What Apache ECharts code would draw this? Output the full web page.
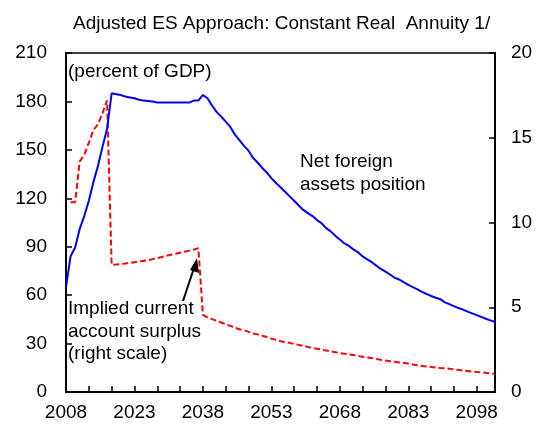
<!DOCTYPE html>
<html>
<head>
<meta charset="utf-8">
<script src="https://cdn.jsdelivr.net/npm/echarts@6/dist/echarts.min.js"></script>
<style>
html,body{margin:0;padding:0;background:#fff;}
#chart{width:538px;height:434px;}
</style>
</head>
<body>
<div id="chart"></div>
<script>
// Years 2008..2102
var years = [];
for (var y = 2008; y <= 2102; y++) years.push(String(y));

// Net foreign assets position (percent of GDP, left scale)
var nfa = [
  65, 84, 89.5, 101, 109, 118.5, 130, 140, 152, 163,          // 2008-2017
  185, 184.5, 184, 183, 182.5, 182, 181, 180.5, 180.3, 180,   // 2018-2027
  179.3, 179.3, 179.3, 179.3, 179.3, 179.3, 179.3, 179.3, 180.5, 180.5, // 2028-2037
  184, 182, 177.5, 173.5, 170.6, 167.5, 164.2, 159.5, 156, 152.5,       // 2038-2047
  149.5, 145, 142, 138.8, 136, 132.5, 129.5, 126.8, 124, 121.2,         // 2048-2057
  118.5, 115.5, 112.8, 110.8, 109, 106.5, 104.5, 101.5, 99.5, 96.8,     // 2058-2067
  94.4, 92, 90.5, 88.3, 86.5, 84, 82.2, 80.4, 78.3, 76.2,               // 2068-2077
  74.6, 72.8, 70.8, 69.7, 68, 66.4, 65, 63.6, 62, 60.7,                 // 2078-2087
  59.5, 58.4, 57.5, 55.5, 54.4, 53.2, 52, 51, 49.8, 48.7,               // 2088-2097
  47.6, 46.5, 45.4, 44.4, 43.4                                          // 2098-2102
];

// Implied current account surplus (right scale)
var cas = [
  null, 11.2, 11.2, 13.6, 14.0, 14.7, 15.45, 15.8, 16.45, 17.2,          // 2008-2017
  7.5, 7.52, 7.55, 7.58, 7.62, 7.66, 7.7, 7.74, 7.78, 7.84,              // 2018-2027
  7.9, 7.97, 8.04, 8.1, 8.16, 8.22, 8.28, 8.34, 8.4, 8.48,               // 2028-2037
  4.55, 4.4, 4.3, 4.2, 4.1, 4.0, 3.9, 3.8, 3.7, 3.65,                    // 2038-2047
  3.55, 3.45, 3.4, 3.32, 3.25, 3.15, 3.08, 3.0, 2.95, 2.9,               // 2048-2057
  2.83, 2.78, 2.72, 2.66, 2.6, 2.55, 2.5, 2.45, 2.4, 2.35,               // 2058-2067
  2.3, 2.26, 2.22, 2.18, 2.12, 2.08, 2.04, 2.0, 1.95, 1.9,               // 2068-2077
  1.86, 1.82, 1.78, 1.74, 1.71, 1.68, 1.62, 1.58, 1.54, 1.5,             // 2078-2087
  1.48, 1.45, 1.42, 1.4, 1.37, 1.33, 1.3, 1.27, 1.24, 1.21,              // 2088-2097
  1.18, 1.16, 1.13, 1.1, 1.06                                            // 2098-2102
];

var leftTicks = [0, 210, 30];
var rightTicks = [0, 20, 5];

var FONT = '"Liberation Sans", Arial, sans-serif';
var FS = 19;
var chart = echarts.init(document.getElementById('chart'), null, {renderer: 'canvas'});

chart.setOption({
  animation: false,
  backgroundColor: '#fff',
  textStyle: {fontFamily: FONT, color: '#000'},
  title: {
    text: 'Adjusted ES Approach: Constant Real  Annuity 1/',
    left: 68, top: 9,
    textStyle: {fontFamily: FONT, fontSize: FS, fontWeight: 'normal', color: '#000'}
  },
  grid: {
    left: 66, right: 43, top: 53, bottom: 42,
    show: true, borderColor: '#000', borderWidth: 1.5, backgroundColor: 'transparent'
  },
  xAxis: {
    type: 'category',
    data: years,
    boundaryGap: false,
    axisLine: {show: true, lineStyle: {color: '#000', width: 2}},
    axisTick: {show: true, inside: true, interval: 4, length: 6, lineStyle: {color: '#000', width: 1.5}},
    axisLabel: {interval: 14, margin: 11, fontSize: FS, color: '#000', fontFamily: FONT},
    splitLine: {show: false}
  },
  yAxis: [{
    type: 'value',
    min: leftTicks[0], max: leftTicks[1], interval: leftTicks[2],
    axisLine: {show: true, lineStyle: {color: '#000', width: 2}},
    axisTick: {show: true, inside: true, length: 6, lineStyle: {color: '#000', width: 1.5}},
    axisLabel: {margin: 19, fontSize: FS, color: '#000', fontFamily: FONT},
    splitLine: {show: false}
  }, {
    type: 'value',
    position: 'right',
    min: rightTicks[0], max: rightTicks[1], interval: rightTicks[2],
    axisLine: {show: true, lineStyle: {color: '#000', width: 2}},
    axisTick: {show: true, inside: true, length: 6, lineStyle: {color: '#000', width: 1.5}},
    axisLabel: {margin: 16, fontSize: FS, color: '#000', fontFamily: FONT},
    splitLine: {show: false}
  }],
  series: [{
    name: 'Net foreign assets position',
    type: 'line',
    data: nfa,
    yAxisIndex: 0,
    showSymbol: false,
    symbol: 'none',
    lineStyle: {color: '#0000ff', width: 2},
    z: 3
  }, {
    name: 'Implied current account surplus',
    type: 'line',
    data: cas,
    yAxisIndex: 1,
    showSymbol: false,
    symbol: 'none',
    connectNulls: false,
    lineStyle: {color: '#ff0000', width: 2, type: [6, 3]},
    z: 2
  }],
  graphic: [
    {type: 'text', left: 68, top: 62, style: {text: '(percent of GDP)', font: FS + 'px ' + FONT, fill: '#000'}},
    {type: 'text', left: 300, top: 151, style: {text: 'Net foreign\nassets position', font: FS + 'px ' + FONT, fill: '#000', lineHeight: 22.5}},
    {type: 'text', left: 68, top: 298, style: {text: 'Implied current\naccount surplus\n(right scale)', font: FS + 'px ' + FONT, fill: '#000', lineHeight: 22.5}},
    {type: 'line', shape: {x1: 183, y1: 301, x2: 194, y2: 268}, style: {stroke: '#000', lineWidth: 2}},
    {type: 'polygon', shape: {points: [[197, 258], [190, 270], [199, 273]]}, style: {fill: '#000'}}
  ]
});
</script>
</body>
</html>
